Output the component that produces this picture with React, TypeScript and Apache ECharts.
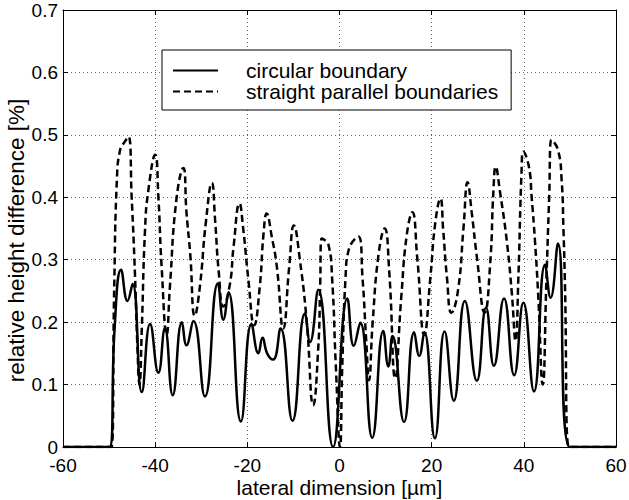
import React, { useEffect, useRef } from 'react';
import * as echarts from 'echarts';

// x axis: lateral dimension [µm]; y axis: relative height difference [%]
const xTicks = [-60, -40, -20, 0, 20, 40, 60];
const yTicks = [0, 0.1, 0.2, 0.3, 0.4, 0.5, 0.6, 0.7];

const seriesNames = ['circular boundary', 'straight parallel boundaries'];

const circular: [number, number][] = [
  [-60, 0], [-49.9, 0], [-48.8, 0.19], [-47.4, 0.284], [-46.0, 0.234], [-44.9, 0.261],
  [-42.9, 0.088], [-41.1, 0.197], [-39.3, 0.119], [-37.9, 0.19], [-36.2, 0.083],
  [-34.2, 0.2], [-33.2, 0.163], [-31.7, 0.202], [-29.2, 0.081], [-26.4, 0.262],
  [-25.2, 0.204], [-24.1, 0.248], [-21.4, 0.041], [-19.1, 0.197], [-17.6, 0.15],
  [-16.7, 0.175], [-15.7, 0.15], [-14.4, 0.14], [-12.8, 0.19], [-10.2, 0.042],
  [-7.5, 0.214], [-6.4, 0.168], [-4.6, 0.252], [-1.4, 0.0], [1.7, 0.238],
  [3.1, 0.162], [4.5, 0.199], [7.1, 0.015], [9.5, 0.186], [10.6, 0.129],
  [11.5, 0.178], [14.0, 0.04], [16.2, 0.184], [17.3, 0.146], [18.4, 0.184],
  [20.7, 0.014], [22.8, 0.185], [24.8, 0.074], [27.2, 0.234], [29.8, 0.106],
  [31.8, 0.223], [33.5, 0.13], [35.7, 0.238], [37.9, 0.115], [39.9, 0.231],
  [42.2, 0.089], [44.6, 0.292], [45.8, 0.239], [47.4, 0.326], [49.95, 0], [60, 0],
];

const straight: [number, number][] = [
  [-60, 0], [-49.5, 0], [-48.9, 0.25], [-48.3, 0.43], [-47.6, 0.476], [-46.7, 0.488],
  [-45.8, 0.497], [-45.1, 0.4], [-44.4, 0.28], [-43.9, 0.17], [-43.4, 0.1],
  [-42.9, 0.19], [-42.2, 0.348], [-41.5, 0.41], [-40.0, 0.468], [-39.3, 0.4],
  [-38.6, 0.289], [-37.5, 0.18], [-36.8, 0.257], [-35.4, 0.396], [-33.9, 0.447],
  [-33.2, 0.375], [-32.4, 0.31], [-31.4, 0.21], [-30.3, 0.257], [-29.0, 0.36],
  [-27.7, 0.423], [-27.0, 0.364], [-26.2, 0.28], [-25.2, 0.225], [-23.8, 0.26],
  [-23.0, 0.32], [-21.7, 0.39], [-20.9, 0.35], [-19.8, 0.27], [-18.5, 0.195],
  [-17.3, 0.257], [-16.5, 0.34], [-15.8, 0.374], [-14.7, 0.337], [-13.6, 0.289],
  [-12.2, 0.19], [-10.9, 0.29], [-9.9, 0.355], [-8.6, 0.3], [-7.1, 0.2],
  [-5.7, 0.067], [-4.6, 0.16], [-4.2, 0.257], [-3.9, 0.334], [-2.4, 0.324],
  [-1.6, 0.27], [-0.8, 0.13], [0.1, 0], [0.6, 0.13], [1.3, 0.27], [2.0, 0.316],
  [4.1, 0.337], [5.0, 0.27], [5.8, 0.17], [6.4, 0.107], [7.2, 0.2], [8.5, 0.31],
  [9.8, 0.35], [10.8, 0.28], [12.1, 0.11], [13.4, 0.24], [14.6, 0.34],
  [15.8, 0.376], [16.9, 0.3], [18.4, 0.18], [19.7, 0.27], [20.8, 0.36],
  [21.9, 0.398], [22.5, 0.348], [23.3, 0.273], [24.3, 0.215], [25.7, 0.25],
  [26.9, 0.35], [27.8, 0.424], [28.7, 0.375], [29.8, 0.305], [31.5, 0.215],
  [32.7, 0.294], [33.4, 0.41], [33.9, 0.449], [34.8, 0.41], [36.3, 0.33],
  [37.4, 0.246], [38.2, 0.17], [38.8, 0.268], [39.5, 0.44], [39.9, 0.473],
  [41.1, 0.449], [41.7, 0.4], [42.4, 0.332], [43.1, 0.246], [44.1, 0.1],
  [44.9, 0.268], [45.5, 0.4], [46.0, 0.492], [47.4, 0.476], [48.2, 0.428],
  [48.6, 0.348], [48.9, 0.268], [49.8, 0], [60, 0],
];

const FONT = '"Liberation Sans", Arial, Helvetica, sans-serif';

export default function App() {
  const ref = useRef<HTMLDivElement>(null);

  useEffect(() => {
    if (!ref.current) return;
    const chart = echarts.init(ref.current, null, { renderer: 'svg' });
    const xMin = xTicks[0];
    const xMax = xTicks[xTicks.length - 1];
    const xInt = xTicks[1] - xTicks[0];
    const yMin = yTicks[0];
    const yMax = yTicks[yTicks.length - 1];
    const yInt = 0.1;

    const axisLine = { show: true, onZero: false, lineStyle: { color: '#000', width: 1 } };
    const axisTick = { show: true, inside: true, length: 5, lineStyle: { color: '#000', width: 1 } };
    const splitLine = { show: true, lineStyle: { color: '#000', width: 1, type: [1, 3], opacity: 0.6 } };
    const labelStyle = { color: '#000', fontSize: 19, fontFamily: FONT };

    chart.setOption({
      animation: false,
      backgroundColor: '#fff',
      grid: { left: 63, right: 13, top: 10, bottom: 53, containLabel: false, outerBoundsMode: 'none' },
      xAxis: [
        {
          type: 'value', min: xMin, max: xMax, interval: xInt, position: 'bottom',
          name: 'lateral dimension [µm]', nameLocation: 'middle', nameGap: 28, nameMoveOverlap: false,
          nameTextStyle: { color: '#000', fontSize: 21, fontFamily: FONT, lineHeight: 24 },
          axisLine, axisTick, splitLine,
          axisLabel: { ...labelStyle, margin: 9 },
        },
        {
          type: 'value', min: xMin, max: xMax, interval: xInt, position: 'top',
          axisLine, axisTick, splitLine: { show: false }, axisLabel: { show: false },
        },
      ],
      yAxis: [
        {
          type: 'value', min: yMin, max: yMax, interval: yInt, position: 'left',
          name: 'relative height difference [%]', nameLocation: 'middle', nameGap: 34, nameMoveOverlap: false,
          nameTextStyle: { color: '#000', fontSize: 22.5, fontFamily: FONT, lineHeight: 25, padding: [0, 24, 0, 0] },
          axisLine, axisTick, splitLine,
          axisLabel: { ...labelStyle, margin: 5, formatter: (v: number) => String(Math.round(v * 10) / 10) },
        },
        {
          type: 'value', min: yMin, max: yMax, interval: yInt, position: 'right',
          axisLine, axisTick, splitLine: { show: false }, axisLabel: { show: false },
        },
      ],
      legend: {
        show: true,
        orient: 'vertical',
        left: 162,
        top: 50,
        itemWidth: 45,
        itemHeight: 18,
        itemGap: 0,
        padding: [10, 13, 8, 10],
        borderColor: '#000',
        borderWidth: 1,
        borderRadius: 0,
        backgroundColor: '#fff',
        data: seriesNames,
        itemStyle: { opacity: 0, borderWidth: 0 },
        textStyle: { color: '#000', fontSize: 21, fontFamily: FONT, lineHeight: 18, padding: [0, 0, 0, 23] },
      },
      series: [
        {
          name: seriesNames[0], type: 'line', data: circular, smooth: 0.5, symbol: 'none',
          lineStyle: { color: '#000', width: 2.5 }, itemStyle: { color: '#000' }, z: 3,
        },
        {
          name: seriesNames[1], type: 'line', data: straight, smooth: 0.5, symbol: 'none',
          lineStyle: { color: '#000', width: 2.5, type: [7, 4] }, itemStyle: { color: '#000' }, z: 2,
        },
      ],
    });
    return () => chart.dispose();
  }, []);

  return <div ref={ref} style={{ position: 'fixed', left: 0, top: 0, width: 629, height: 500 }} />;
}
